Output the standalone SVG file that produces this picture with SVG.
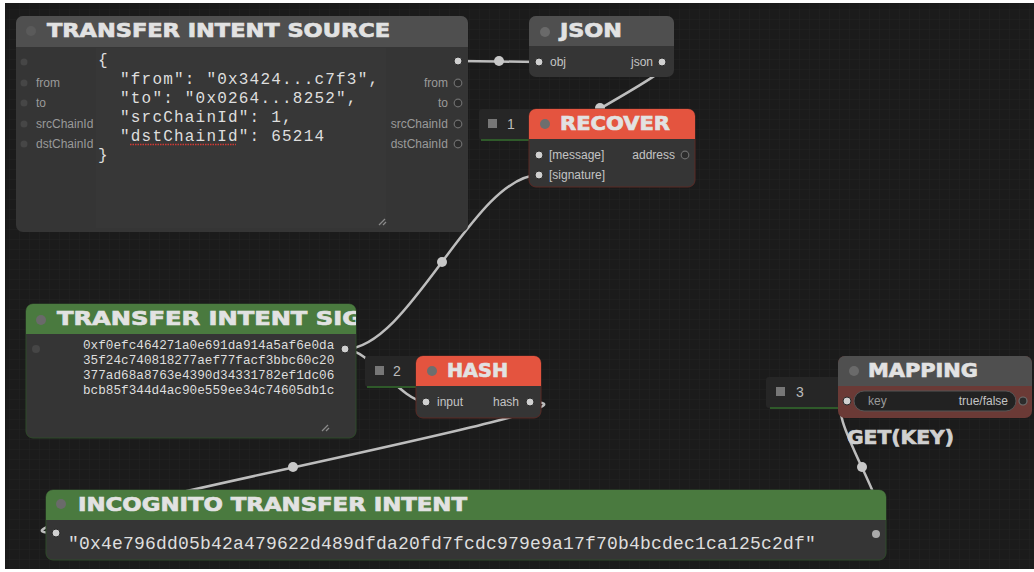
<svg xmlns="http://www.w3.org/2000/svg" width="1034" height="572" viewBox="0 0 1034 572">
<defs>
<pattern id="grid" width="10" height="10" patternUnits="userSpaceOnUse">
<rect width="10" height="10" fill="#1b1b1b"/>
<path d="M10 0V10M0 10H10" stroke="#222" stroke-width="1" fill="none"/>
</pattern>
<clipPath id="sigclip"><rect x="26" y="304" width="330" height="30"/></clipPath>
<style>
.body{fill:#353535}
.tgray{fill:#4f4f4f}
.tgreen{fill:#4a7a3f}
.tred{fill:#e4543f}
.title{font-family:"DejaVu Sans",sans-serif;font-weight:bold;font-size:19px;fill:#e2e2e2;stroke:#e2e2e2;stroke-width:0.7}
.tdot{fill:#6a6a6a}
.lbl{font-family:"Liberation Sans",Arial,sans-serif;font-size:12px;fill:#9a9a9a}
.lbl2{font-family:"Liberation Sans",Arial,sans-serif;font-size:12px;fill:#c4c4c4}
.mono{font-family:"Liberation Mono","Courier New",monospace;fill:#dedede}
.link{fill:none;stroke:#bdbdbd;stroke-width:2.5}
.ldot{fill:#c8c8c8}
.on{fill:#d0d0d0;stroke:#2a2a2a;stroke-width:1}
.off{fill:#464646}
.hol{fill:#2c2c2c;stroke:#6e6e6e;stroke-width:1.2}
.tab{fill:#262626}
.tabsq{fill:#777}
.tabn{font-family:"Liberation Sans",Arial,sans-serif;font-size:14px;fill:#bbb}
.handle{stroke:#8a8a8a;stroke-width:1.2}
</style>
</defs>
<rect width="1034" height="572" fill="#ffffff"/>
<rect x="5" y="3" width="1029" height="566" fill="url(#grid)"/>

<g id="connectors">
<path class="link" d="M458,61 C478,61 519,62 539,62"/>
<circle class="ldot" cx="499" cy="61" r="5"/>
<path class="link" d="M662,62 C700,62 500,155 539,155"/>
<circle class="ldot" cx="600" cy="108" r="5"/>
<path class="link" d="M345,349 C410,349 474,175 539,175"/>
<circle class="ldot" cx="442" cy="262" r="5"/>
<path class="link" d="M345,349 C369,349 402,402 426,402"/>
<circle class="ldot" cx="385" cy="375" r="5"/>
<path class="link" d="M530,402 C653,402 -67,533 56,533"/>
<circle class="ldot" cx="293" cy="467" r="5"/>
<path class="link" d="M876,534 C910,534 814,401 848,401"/>
<circle class="ldot" cx="862" cy="467" r="5"/>
</g>

<g id="tab1">
<rect class="tab" x="479" y="109" width="56" height="31" rx="3"/>
<line x1="481" y1="140" x2="533" y2="140" stroke="#2f5a2a" stroke-width="2"/>
<rect class="tabsq" x="488" y="119" width="9" height="9"/>
<text class="tabn" x="507" y="129">1</text>
</g>
<g id="tab2">
<rect class="tab" x="365" y="356" width="56" height="31" rx="3"/>
<line x1="367" y1="387" x2="419" y2="387" stroke="#2f5a2a" stroke-width="2"/>
<rect class="tabsq" x="375" y="366" width="9" height="9"/>
<text class="tabn" x="393" y="376">2</text>
</g>
<g id="tab3">
<rect class="tab" x="766" y="377" width="77" height="31" rx="3"/>
<line x1="770" y1="408" x2="840" y2="408" stroke="#2f5a2a" stroke-width="2"/>
<rect class="tabsq" x="776" y="387" width="9" height="9"/>
<text class="tabn" x="796" y="397">3</text>
</g>

<g id="node-source">
<rect class="body" x="16" y="16" width="452" height="216" rx="7"/>
<rect x="96" y="48" width="290" height="180" fill="#373737"/>
<path class="tgray" d="M16,47 V23 a7,7 0 0 1 7,-7 H461 a7,7 0 0 1 7,7 V47 Z"/>
<circle cx="31" cy="31" r="5" fill="#5a5a5a"/>
<text class="title" x="47" y="37" textLength="343" lengthAdjust="spacingAndGlyphs">TRANSFER INTENT SOURCE</text>
<circle class="off" cx="24" cy="62" r="3.5"/>
<circle class="off" cx="24" cy="83" r="3.5"/>
<circle class="off" cx="24" cy="103" r="3.5"/>
<circle class="off" cx="24" cy="124" r="3.5"/>
<circle class="off" cx="24" cy="144" r="3.5"/>
<text class="lbl" x="36" y="87">from</text>
<text class="lbl" x="36" y="107">to</text>
<text class="lbl" x="36" y="128">srcChainId</text>
<text class="lbl" x="36" y="148">dstChainId</text>
<g class="mono" font-size="16" letter-spacing="1.2">
<text x="98" y="65">{</text>
<text x="120" y="84">"from": "0x3424...c7f3",</text>
<text x="120" y="103">"to": "0x0264...8252",</text>
<text x="120" y="122">"srcChainId": 1,</text>
<text x="120" y="141">"dstChainId": 65214</text>
<text x="98" y="160">}</text>
</g>
<line x1="130" y1="144.5" x2="236" y2="144.5" stroke="#d03a35" stroke-width="1.5" stroke-dasharray="1.5 1"/>
<line class="handle" x1="379" y1="225" x2="385" y2="219"/>
<line class="handle" x1="383" y1="225" x2="386" y2="222"/>
<circle class="on" cx="458" cy="61" r="4"/>
<circle class="hol" cx="458" cy="83" r="3.8"/>
<circle class="hol" cx="458" cy="103" r="3.8"/>
<circle class="hol" cx="458" cy="124" r="3.8"/>
<circle class="hol" cx="458" cy="144" r="3.8"/>
<g class="lbl" text-anchor="end" fill="#a8a8a8">
<text x="448" y="87">from</text>
<text x="448" y="107">to</text>
<text x="448" y="128">srcChainId</text>
<text x="448" y="148">dstChainId</text>
</g>
</g>

<g id="node-json">
<rect class="body" x="529" y="16" width="145" height="61" rx="7"/>
<path class="tgray" d="M529,46 V23 a7,7 0 0 1 7,-7 H667 a7,7 0 0 1 7,7 V46 Z"/>
<circle class="tdot" cx="545" cy="32" r="5"/>
<text class="title" x="560" y="37" textLength="62" lengthAdjust="spacingAndGlyphs">JSON</text>
<circle class="on" cx="539" cy="62" r="4"/>
<text class="lbl2" x="550" y="66">obj</text>
<text class="lbl2" x="653" y="66" text-anchor="end">json</text>
<circle class="on" cx="662" cy="62" r="4"/>
</g>

<g id="node-recover">
<rect class="body" x="529" y="109" width="166" height="78" rx="7" stroke="#5a2a25" stroke-width="1"/>
<path class="tred" d="M529,139 V116 a7,7 0 0 1 7,-7 H688 a7,7 0 0 1 7,7 V139 Z"/>
<circle cx="545" cy="124" r="5" fill="#6e6e6e"/>
<text class="title" x="560" y="130" textLength="110" lengthAdjust="spacingAndGlyphs">RECOVER</text>
<circle class="on" cx="539" cy="155" r="4"/>
<text class="lbl2" x="549" y="159">[message]</text>
<circle class="on" cx="539" cy="175" r="4"/>
<text class="lbl2" x="549" y="179">[signature]</text>
<text class="lbl2" x="675" y="159" text-anchor="end">address</text>
<circle class="hol" cx="685" cy="155" r="3.8"/>
</g>

<g id="node-sig">
<rect class="body" x="26" y="304" width="330" height="134" rx="7" stroke="#2f4a2a" stroke-width="1"/>
<path class="tgreen" d="M26,334 V311 a7,7 0 0 1 7,-7 H349 a7,7 0 0 1 7,7 V334 Z"/>
<circle class="tdot" cx="41" cy="320" r="5"/>
<text class="title" x="57" y="325" textLength="305" lengthAdjust="spacingAndGlyphs" clip-path="url(#sigclip)">TRANSFER INTENT SIG</text>
<circle class="off" cx="36" cy="349" r="4"/>
<circle class="on" cx="345" cy="349" r="4"/>
<g class="mono" font-size="12.7">
<text x="83" y="349">0xf0efc464271a0e691da914a5af6e0da</text>
<text x="83" y="364">35f24c740818277aef77facf3bbc60c20</text>
<text x="83" y="379">377ad68a8763e4390d34331782ef1dc06</text>
<text x="83" y="394">bcb85f344d4ac90e559ee34c74605db1c</text>
</g>
<line class="handle" x1="322" y1="431" x2="328" y2="425"/>
<line class="handle" x1="326" y1="431" x2="329" y2="428"/>
</g>

<g id="node-hash">
<rect class="body" x="416" y="356" width="125" height="62" rx="7" stroke="#5a2a25" stroke-width="1"/>
<path class="tred" d="M416,386 V363 a7,7 0 0 1 7,-7 H534 a7,7 0 0 1 7,7 V386 Z"/>
<circle cx="432" cy="371" r="5" fill="#6e6e6e"/>
<text class="title" x="447" y="377" textLength="61" lengthAdjust="spacingAndGlyphs">HASH</text>
<circle class="on" cx="426" cy="402" r="4"/>
<text class="lbl2" x="437" y="406">input</text>
<text class="lbl2" x="519" y="406" text-anchor="end">hash</text>
<circle class="on" cx="530" cy="402" r="4"/>
</g>

<g id="node-mapping">
<rect x="838" y="356" width="194" height="62" rx="7" fill="#6b3a36"/>
<path class="tgray" d="M838,386 V363 a7,7 0 0 1 7,-7 H1025 a7,7 0 0 1 7,7 V386 Z"/>
<circle class="tdot" cx="854" cy="371" r="5"/>
<text class="title" x="868" y="377" textLength="110" lengthAdjust="spacingAndGlyphs">MAPPING</text>
<rect x="854" y="391" width="162" height="20" rx="10" fill="#222" stroke="#555" stroke-width="1"/>
<text class="lbl" x="868" y="405">key</text>
<text class="lbl2" x="1008" y="405" text-anchor="end">true/false</text>
<circle class="on" cx="847" cy="401" r="4"/>
<circle class="hol" cx="1023" cy="401" r="4"/>
</g>
<text id="label-getkey" class="title" x="847" y="444" font-size="17" textLength="107" lengthAdjust="spacingAndGlyphs" style="fill:#d0d0d0;stroke:#d0d0d0">GET(KEY)</text>

<g id="node-incognito">
<rect class="body" x="46" y="490" width="840" height="70" rx="7" stroke="#2f4a2a" stroke-width="1"/>
<path class="tgreen" d="M46,520 V497 a7,7 0 0 1 7,-7 H879 a7,7 0 0 1 7,7 V520 Z"/>
<circle class="tdot" cx="61" cy="504" r="5"/>
<text class="title" x="78" y="511" textLength="389" lengthAdjust="spacingAndGlyphs">INCOGNITO TRANSFER INTENT</text>
<circle class="on" cx="56" cy="533" r="4"/>
<circle cx="876" cy="534" r="4" fill="#aaa"/>
<text class="mono" x="68" y="549" font-size="18" letter-spacing="0.2">"0x4e796dd05b42a479622d489dfda20fd7fcdc979e9a17f70b4bcdec1ca125c2df"</text>
</g>
</svg>
